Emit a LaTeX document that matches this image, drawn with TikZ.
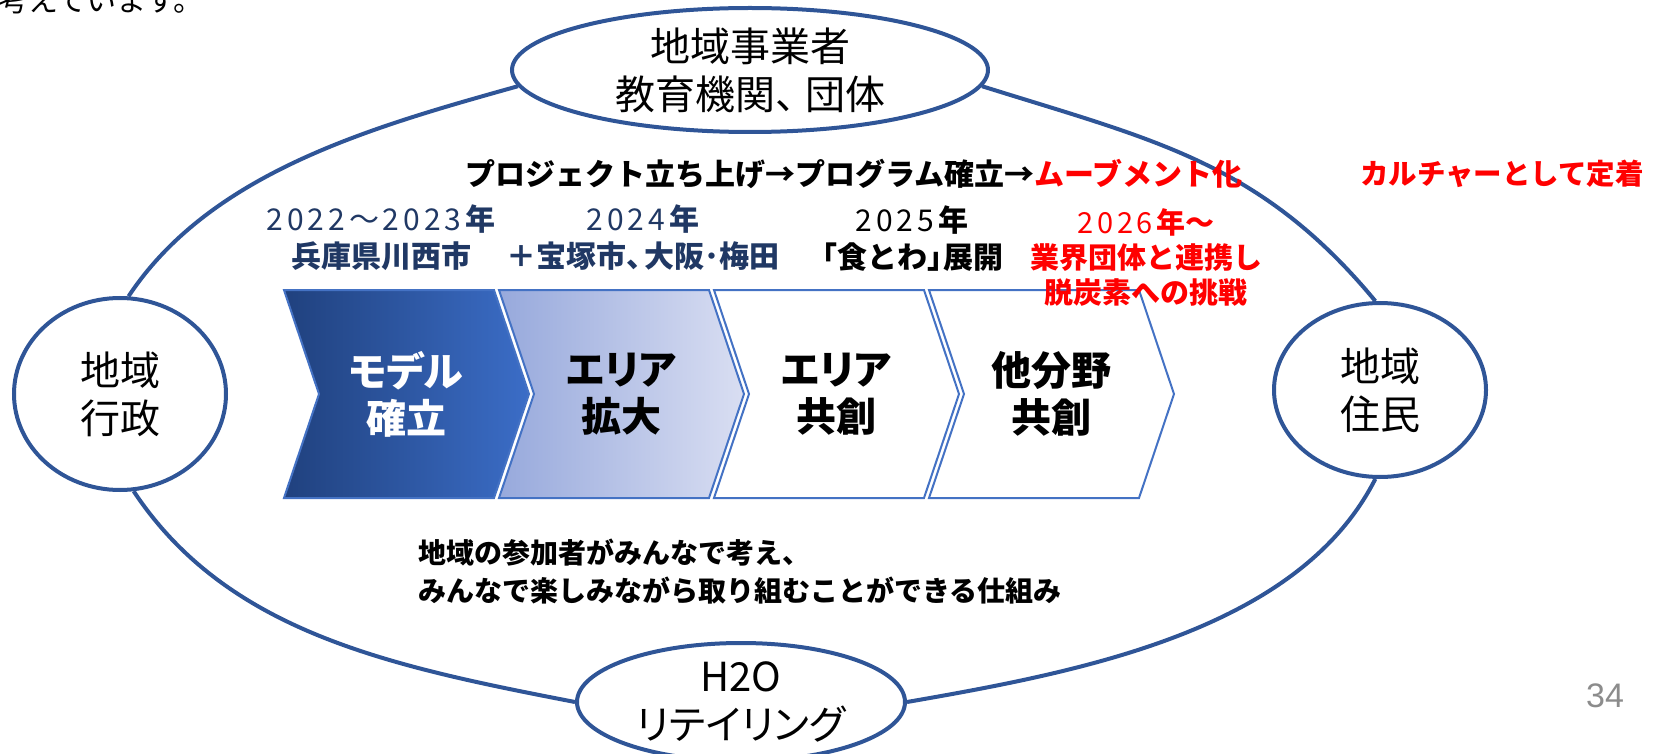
\documentclass[tikz,border=0pt]{standalone}
\usepackage{fontspec}
\setmainfont{Noto Sans CJK JP}
\newfontfamily\arialf{Liberation Sans}
\usetikzlibrary{shapes.geometric}
\definecolor{ringblue}{HTML}{2F5597}
\definecolor{chevblue}{HTML}{4472C4}
\definecolor{navytxt}{HTML}{203864}
\definecolor{redtxt}{HTML}{FF0000}
\definecolor{pagegray}{HTML}{8C8C8C}
\definecolor{cA}{HTML}{20417E}
\definecolor{cB}{HTML}{3B6DC7}
\definecolor{cC}{HTML}{97A9DC}
\definecolor{cD}{HTML}{D9DEF2}
\newcommand\yrs[1]{{\addfontfeature{LetterSpace=13}#1}}
\newcommand\fsz[2]{\fontsize{#1}{#2}\selectfont}
\newcommand\paltf{\addfontfeature{RawFeature=+palt}}
\tikzset{
  ring/.style={ellipse, draw=ringblue, line width=4pt, fill=white, inner sep=0pt, align=center, font=\fsz{40}{48}},
  link/.style={draw=ringblue, line width=4pt},
  chevshape/.style={draw=chevblue, line width=2pt, line join=miter},
  chevtext/.style={align=center, inner sep=0pt, font=\bfseries\fsz{40}{47}},
  lbl/.style={align=center, inner sep=0pt, font=\fsz{30}{37}},
}
\begin{document}
\begin{tikzpicture}[x=1pt,y=-1pt]
\useasboundingbox (0,0) rectangle (1663,754);
\clip (0,0) rectangle (1663,754);

% cut-off text at top
\node[anchor=base west, inner sep=0pt, font=\fsz{30}{36}] (cut) at (-2,12) {考えています。};

% chevrons
\shade[left color=cA, right color=cB] (284,290) -- (494,290) -- (529,394) -- (494,498) -- (284,498) -- (319,394) -- cycle;
\draw[chevshape] (284,290) -- (494,290) -- (529,394) -- (494,498) -- (284,498) -- (319,394) -- cycle;
\shade[left color=cC, right color=cD] (499,290) -- (709,290) -- (744,394) -- (709,498) -- (499,498) -- (534,394) -- cycle;
\draw[chevshape] (499,290) -- (709,290) -- (744,394) -- (709,498) -- (499,498) -- (534,394) -- cycle;
\draw[chevshape, fill=white] (714,290) -- (924,290) -- (959,394) -- (924,498) -- (714,498) -- (749,394) -- cycle;
\draw[chevshape, fill=white] (929,290) -- (1139,290) -- (1174,394) -- (1139,498) -- (929,498) -- (964,394) -- cycle;

\node[chevtext, text=white] (c1) at (406,394) {{\paltf モデル}\\確立};
\node[chevtext] (c2) at (621,394) {{\paltf エリア}\\拡大};
\node[chevtext] (c3) at (836,394) {{\paltf エリア}\\共創};
\node[chevtext] (c4) at (1051,394) {他分野\\共創};

% ring nodes
\node[ring, minimum width=476pt, minimum height=124pt] (top) at (750,70) {地域事業者\\教育機関、\kern-.25em団体};
\node[ring, minimum width=212pt, minimum height=192pt] (gov) at (120,394) {地域\\行政};
\node[ring, minimum width=212pt, minimum height=174pt] (res) at (1380,390) {地域\\住民};
\node[ring, minimum width=328pt, minimum height=118pt] (h2o) at (741,702) {H2O\\{\paltf リテイリング}};

% ring connectors
\draw[link] (top.184) .. controls +(-144.5,40.5) and +(82.5,-124.5) .. (gov.85);
\draw[link] (gov.-82) .. controls +(93.5,141) and +(-186,-36) .. (h2o.180);
\draw[link] (h2o.0) .. controls +(176.4,-30.6) and +(-76.5,151) .. (res.267);
\draw[link] (res.93) .. controls +(-115,-139) and +(172,54) .. (top.356);

% labels
\node[inner sep=0pt, font=\bfseries\fsz{30}{36}] (flow) at (854,174) {プロジェクト立ち上げ→プログラム確立→\textcolor{redtxt}{ムーブメント化}};
\node[inner sep=0pt, text=redtxt, font=\bfseries\fsz{28.5}{34}] (cult) at (1502,174) {カルチャーとして定着};

\node[lbl, text=navytxt] (y1) at (381,238) {\yrs{2022～2023}\textbf{年}\\\textbf{兵庫県川西市}};
\node[lbl, text=navytxt] (y2) at (643,238) {\yrs{2024}\textbf{年}\\\textbf{＋宝塚市、\kern-.4em大阪･梅田}};
\node[lbl] (y3) at (912,239) {\yrs{2025}\textbf{年}\\\textbf{\kern-.45em「食とわ」\kern-.45em展開}};
\node[lbl, text=redtxt, font=\fsz{29}{35}] (y4) at (1146,257) {\yrs{2026}\textbf{年～}\\\textbf{業界団体と連携し}\\\textbf{脱炭素への挑戦}};

\node[anchor=west, align=left, inner sep=0pt, font=\bfseries\fsz{28}{38}] (goal) at (418,572) {地域の参加者がみんなで考え、\\みんなで楽しみながら取り組むことができる仕組み};

\node[inner sep=0pt, text=pagegray, font=\arialf\fsz{34}{40}] (pg) at (1605,696) {34};
\end{tikzpicture}
\end{document}
